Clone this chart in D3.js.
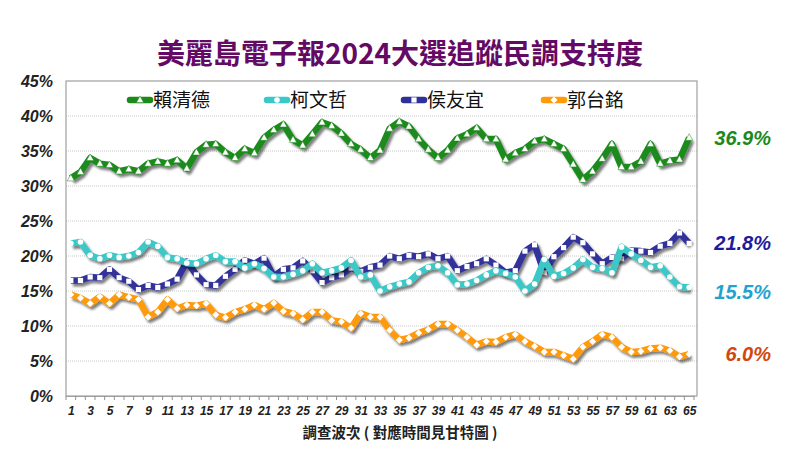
<!DOCTYPE html>
<html><head><meta charset="utf-8">
<script src="https://cdn.jsdelivr.net/npm/d3@7"></script>
<style>
html,body{margin:0;padding:0;background:#fff;}
svg{display:block;}
.narrow{font-family:"Liberation Sans Narrow","Arial Narrow","Liberation Sans",sans-serif;font-weight:bold;font-style:italic;}
.cjk{font-family:"Noto Sans CJK TC","Noto Sans CJK SC",sans-serif;}
</style></head>
<body>
<svg id="chart" width="800" height="450"></svg>
<script>
const waves = d3.range(1, 66);
const xTickLabels = d3.range(1, 66, 2);
const yTicks = [0,5,10,15,20,25,30,35,40,45];

const lai = [31.1,32.0,34.0,33.2,33.0,32.1,32.4,32.1,33.2,33.5,33.2,33.7,32.5,34.8,35.9,36.0,34.8,34.0,35.3,34.7,
  36.9,38.0,38.8,36.6,35.8,37.4,39.1,38.6,37.5,36.0,35.2,34.0,35.1,38.2,39.2,38.5,36.7,35.2,34.0,35.1,
  36.8,37.4,38.3,36.7,36.7,33.8,34.7,35.3,36.4,36.7,36.0,35.3,33.1,30.9,32.1,33.9,36.0,32.7,32.7,33.5,
  36.0,33.2,33.6,33.8,36.9];
const ko = [21.8,22.0,20.1,19.6,20.1,19.8,20.0,20.5,22.0,21.4,19.8,19.6,19.0,18.9,19.6,20.1,19.2,19.2,18.3,18.9,
  18.2,17.0,17.0,17.4,17.9,18.9,17.6,17.9,18.3,19.4,17.0,17.3,15.0,15.6,16.0,16.3,17.6,18.4,18.6,17.6,
  15.9,16.0,16.5,17.3,17.9,17.5,17.0,15.0,16.0,19.5,17.1,17.5,18.3,19.5,18.4,18.2,17.6,21.3,20.3,19.4,
  18.4,18.6,17.0,15.6,15.5];
const hou = [16.5,16.5,17.0,16.9,18.1,16.9,16.4,15.2,15.8,15.5,16.0,16.7,19.2,17.3,15.9,15.8,17.1,18.1,19.4,18.9,
  19.7,17.1,18.1,18.3,19.3,17.9,16.2,16.9,17.3,18.3,17.8,18.4,18.7,20.0,19.6,20.1,19.9,20.3,19.6,20.0,
  17.9,18.5,18.9,19.6,18.7,17.6,17.9,20.7,21.6,17.6,19.9,21.2,22.7,21.9,20.3,18.9,19.8,19.6,20.8,20.7,
  20.5,21.4,21.8,23.3,21.8];
const kuo = [14.5,14.0,13.2,14.2,13.2,14.5,14.1,13.8,11.3,12.0,13.8,12.5,13.0,12.9,13.2,11.6,11.2,12.0,12.4,13.0,
  12.4,13.3,12.1,11.8,10.9,12.0,12.0,10.8,10.6,9.7,11.8,11.3,11.3,9.4,8.0,8.3,9.0,9.5,10.3,10.3,
  9.4,8.4,7.3,7.8,7.7,8.4,8.8,7.8,7.1,6.3,6.3,5.8,5.3,7.0,7.8,8.8,8.4,7.0,6.3,6.4,
  6.8,6.9,6.5,5.6,6.0];

const seriesNames = ["賴清德","柯文哲","侯友宜","郭台銘"];
const finalLabels = ["36.9%","15.5%","21.8%","6.0%"];

const series = [
  {name: seriesNames[0], values: lai, color: "#1b8a1b", shape: "triangle", label: finalLabels[0], labelColor: "#1b8a1b"},
  {name: seriesNames[1], values: ko, color: "#3cc8c8", shape: "circle", label: finalLabels[1], labelColor: "#1fa3cf"},
  {name: seriesNames[2], values: hou, color: "#30309a", shape: "square", label: finalLabels[2], labelColor: "#1c1c9c"},
  {name: seriesNames[3], values: kuo, color: "#ff9a0a", shape: "diamond", label: finalLabels[3], labelColor: "#d2470c"}
];

const svg = d3.select("#chart");
const L = 66, R = 694, T = 81, B = 396;

const x = d3.scalePoint().domain(waves).range([L, R]).padding(0.5);
const y = d3.scaleLinear().domain([0, 45]).range([B, T]);

const defs = svg.append("defs");
const f = defs.append("filter").attr("id","shadow").attr("x","-5%").attr("y","-20%").attr("width","110%").attr("height","140%");
f.append("feDropShadow").attr("dx",2.2).attr("dy",2.8).attr("stdDeviation",1.3).attr("flood-color","#000").attr("flood-opacity",0.5);

// title
svg.append("text").attr("class","cjk").attr("x",400).attr("y",64).attr("text-anchor","middle")
  .attr("font-size",28).attr("font-weight","bold").attr("fill","#640a64")
  .text("美麗島電子報2024大選追蹤民調支持度");

// gridlines
svg.append("g").selectAll("line").data(yTicks.filter(d => d > 0 && d < 45)).join("line")
  .attr("x1", L).attr("x2", R + 3).attr("y1", d => y(d)).attr("y2", d => y(d))
  .attr("stroke","#c8c8c8").attr("stroke-width",1).attr("stroke-dasharray","1,1");

// frame
svg.append("rect").attr("x",L).attr("y",T).attr("width",R + 3 - L).attr("height",B - T)
  .attr("fill","none").attr("stroke","#a0a0a0").attr("stroke-width",1.2);

// y axis labels
const yAxis = d3.axisLeft(y).tickValues(yTicks).tickSize(0).tickPadding(13).tickFormat(d => d + "%");
const gy = svg.append("g").attr("transform",`translate(${L},0)`).call(yAxis);
gy.select(".domain").remove();
gy.selectAll("text").attr("class","narrow").attr("font-size",16).attr("fill","#222").attr("dy","0.35em");

// x axis
const step = x.step();
const xAxis = d3.axisBottom(x).tickValues(xTickLabels).tickSize(0).tickPadding(10);
const gx = svg.append("g").attr("transform",`translate(0,${B})`).call(xAxis);
gx.select(".domain").attr("stroke","#a0a0a0").attr("stroke-width",1.2);
gx.selectAll("text").attr("class","narrow").attr("font-size",12).attr("fill","#222");
svg.append("g").selectAll("line").data(d3.range(0, 66)).join("line")
  .attr("x1", d => L + d * step).attr("x2", d => L + d * step)
  .attr("y1", B).attr("y2", B + 4).attr("stroke","#909090").attr("stroke-width",1);

svg.append("text").attr("class","cjk").attr("x",400).attr("y",438).attr("text-anchor","middle")
  .attr("font-size",14.5).attr("font-weight","bold").attr("fill","#222")
  .text("調查波次 ( 對應時間見甘特圖 )");

function marker(g, shape, cx, cy, color) {
  if (shape === "triangle") {
    g.append("path").attr("d", `M${cx},${cy-4}L${cx+3.6},${cy+2.6}L${cx-3.6},${cy+2.6}Z`)
      .attr("fill","#fff").attr("stroke",color).attr("stroke-width",0.5);
  } else if (shape === "circle") {
    g.append("circle").attr("cx",cx).attr("cy",cy).attr("r",2.8).attr("fill","#fff");
  } else if (shape === "square") {
    g.append("rect").attr("x",cx-2.6).attr("y",cy-2.6).attr("width",5.2).attr("height",5.2).attr("fill","#fff");
  } else {
    g.append("path").attr("d", `M${cx},${cy-3.5}L${cx+3.5},${cy}L${cx},${cy+3.5}L${cx-3.5},${cy}Z`).attr("fill","#fff");
  }
}

const line = d3.line().x((d,i) => x(waves[i])).y(d => y(d));

const drawOrder = [3, 2, 1, 0];
drawOrder.forEach(k => {
  const s = series[k];
  const g = svg.append("g");
  g.append("path").datum(s.values).attr("d", line).attr("fill","none")
    .attr("stroke", s.color).attr("stroke-width", 6.5).attr("stroke-linejoin","round")
    .attr("filter","url(#shadow)");
  s.values.forEach((v, i) => marker(g, s.shape, x(waves[i]), y(v), s.color));
});

// end labels
series.forEach(s => {
  const v = s.values[s.values.length - 1];
  let yy = y(v) + 7;
  if (s.shape === "circle") yy += 4;
  svg.append("text").attr("class","narrow").attr("x", 771).attr("y", yy)
    .attr("text-anchor","end").attr("font-size",20).attr("fill", s.labelColor).text(s.label);
});

// legend
const legX = [130, 267, 404, 544];
const legY = 100;
series.forEach((s, k) => {
  const g = svg.append("g");
  g.append("line").attr("x1", legX[k]).attr("x2", legX[k] + 20).attr("y1", legY).attr("y2", legY)
    .attr("stroke", s.color).attr("stroke-width", 6.5).attr("stroke-linecap","round");
  marker(g, s.shape, legX[k] + 10, legY, s.color);
  g.append("text").attr("class","cjk").attr("x", legX[k] + 23).attr("y", legY + 7)
    .attr("font-size", 19).attr("fill","#111").text(s.name);
});
</script>
</body></html>
